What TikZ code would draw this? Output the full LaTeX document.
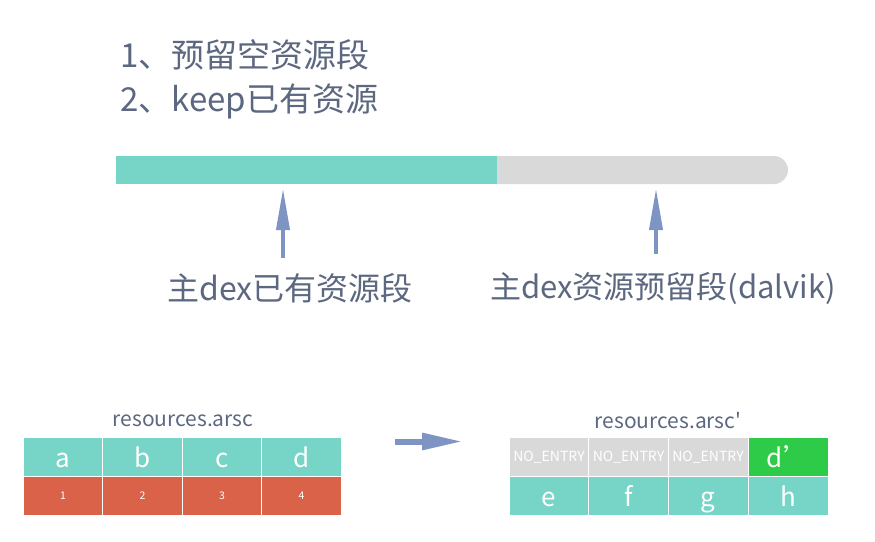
\documentclass[tikz,border=0pt]{standalone}
\usepackage{fontspec}
\setmainfont{Noto Sans CJK SC}
\newfontfamily\rawfont{Noto Sans CJK SC}
\usepackage{xcolor}
\usepackage{tikz}
\usetikzlibrary{arrows.meta,positioning}
\definecolor{txtgray}{HTML}{5C6780}
\definecolor{barteal}{HTML}{77D5C8}
\definecolor{bargray}{HTML}{D9D9D9}
\definecolor{cellred}{HTML}{DA6249}
\definecolor{cellgreen}{HTML}{2DCB48}
\definecolor{arrowblue}{HTML}{7E95C4}
\tikzset{>=latex}
\tikzset{cell/.style={minimum width=79.6pt,minimum height=39pt,inner sep=0pt,draw=white,line width=0.6pt,text=white,
  font=\fontsize{26}{26}\selectfont,text height=22pt,text depth=0pt},
  small/.style={cell,font=\fontsize{10.5}{10.5}\selectfont,text height=7.5pt},
  noentry/.style={cell,fill=bargray,font=\fontsize{14}{14}\selectfont,text height=9.5pt},
  caption/.style={text=txtgray,inner sep=0pt},
  fatarrow/.style={draw=arrowblue,line width=4pt,-{Triangle[length=42pt,width=13pt]}}}

\begin{document}
\begin{tikzpicture}[x=1pt,y=-1pt]
      \useasboundingbox (0,0) rectangle (875,541);
      % steps
      \node[caption,anchor=west,font=\fontsize{33}{33}\selectfont] (step1) at (120,55) {1、预留空资源段};
      \node[caption,anchor=west,font=\fontsize{33}{33}\selectfont] (step2) at (120,101) {2、keep已有资源};
      % bar
      \node[fill=bargray,rounded corners=14pt,minimum width=308pt,minimum height=28pt,inner sep=0pt] (reserve) at (634,170) {};
      \node[fill=barteal,minimum width=381pt,minimum height=28pt,inner sep=0pt] (used) at (306.5,170) {};
      \node[caption,font=\fontsize{32}{32}\selectfont] (usedlbl) at (290,288) {主dex已有资源段};
      \node[caption,font=\fontsize{31}{31}\selectfont] (reservelbl) at (663,288) {主dex资源预留段(dalvik)};
      \coordinate (t1) at (283,258);
      \coordinate (t2) at (656,254);
      \draw[fatarrow,shorten >=4pt] (t1) -- (t1 |- used.south);
      \draw[fatarrow,shorten >=4pt] (t2) -- (t2 |- reserve.south);
      % old table
      \node[caption,font=\fontsize{21}{21}\selectfont] (oldtitle) at (183,421) {resources.arsc};
      \node[cell,fill=barteal] (a) at (63,456.5) {a};
      \node[cell,fill=barteal] (b) at (142.5,456.5) {b};
      \node[cell,fill=barteal] (c) at (222,456.5) {c};
      \node[cell,fill=barteal] (d) at (301.5,456.5) {d};
      \node[small,fill=cellred] (n1) at (63,495.5) {1};
      \node[small,fill=cellred] (n2) at (142.5,495.5) {2};
      \node[small,fill=cellred] (n3) at (222,495.5) {3};
      \node[small,fill=cellred] (n4) at (301.5,495.5) {4};
      % new table
      \node[caption,font=\fontsize{21}{21}\selectfont] (newtitle) at (668,421) {resources.arsc{\rawfont '}};
      \node[noentry] (x1) at (549,456.5) {NO\_ENTRY};
      \node[noentry] (x2) at (628.5,456.5) {NO\_ENTRY};
      \node[noentry] (x3) at (708,456.5) {NO\_ENTRY};
      \node[cell,fill=cellgreen] (dd) at (788,456.5) {d’};
      \node[cell,fill=barteal] (e) at (549,495.5) {e};
      \node[cell,fill=barteal] (f) at (628.5,495.5) {f};
      \node[cell,fill=barteal] (g) at (708,495.5) {g};
      \node[cell,fill=barteal] (h) at (788,495.5) {h};
      \coordinate (m1) at (395,441.5);
      \coordinate (m2) at (463,441.5);
      \draw[fatarrow,line width=6pt,-{Triangle[length=41pt,width=16pt]}] (m1) -- (m2);
    \end{tikzpicture}
\end{document}
